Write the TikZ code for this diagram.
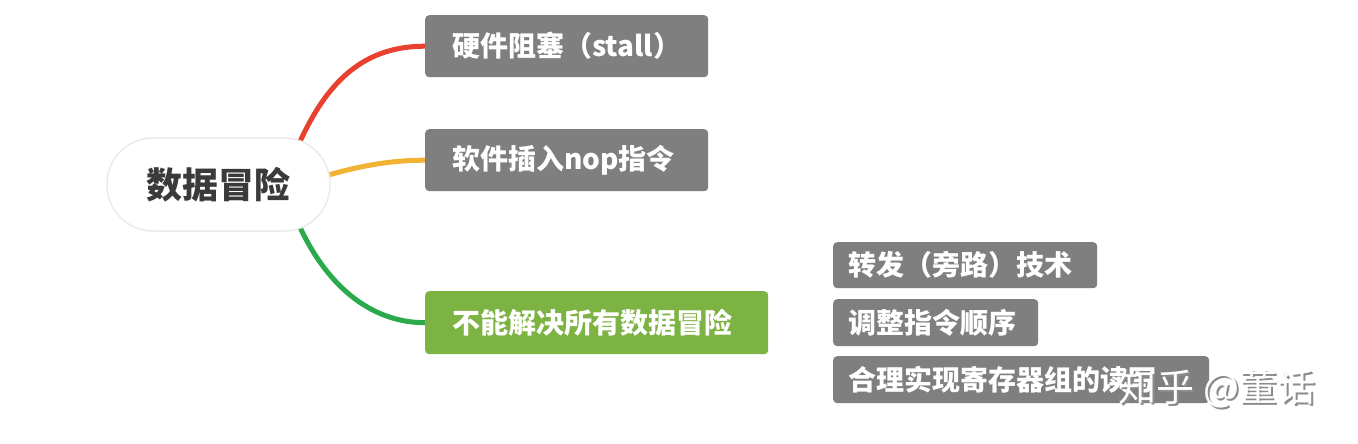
\documentclass[tikz,border=0pt]{standalone}
\usepackage{fontspec}
\newfontfamily\cjk{Noto Sans CJK SC}
\usetikzlibrary{calc,backgrounds}
\definecolor{boxgray}{HTML}{7F7F7F}
\definecolor{boxgreen}{HTML}{7CB342}
\definecolor{cred}{HTML}{E9412F}
\definecolor{cyel}{HTML}{F2B233}
\definecolor{cgrn}{HTML}{2BAA4B}
\definecolor{ctext}{HTML}{3A3A3A}
\tikzset{
  mbox/.style={rounded corners=4pt, fill=boxgray, text=white,
    font=\cjk\bfseries\fontsize{28}{30}\selectfont, anchor=north west,
    inner xsep=27pt, inner ysep=0pt, align=left},
  sbox/.style={mbox, inner xsep=15pt},
  conn/.style={line width=5pt},
  wm/.style={font=\cjk\fontsize{38}{40}\selectfont, inner sep=0pt}
}
\begin{document}
\begin{tikzpicture}[x=1pt,y=-1pt]
\useasboundingbox (0,0) rectangle (1358,444);
\node[rounded corners=46pt, fill=white, draw=black!8, line width=1.5pt,
  minimum width=223pt, minimum height=93pt, inner sep=0pt,
  font=\cjk\bfseries\fontsize{36}{40}\selectfont, text=ctext] (c) at (218.5,184.5) {数据冒险};
\node[mbox, minimum height=62pt, text width=229pt] (b1) at (425,15) {硬件阻塞（stall）};
\node[mbox, minimum height=62pt, text width=229pt] (b2) at (425,129) {软件插入nop指令};
\node[mbox, fill=boxgreen, minimum height=63pt, text width=289pt] (b3) at (425,291) {不能解决所有数据冒险};
\node[sbox, minimum height=46pt, text width=234pt] (s1) at (833,242) {转发（旁路）技术};
\node[sbox, minimum height=47pt, text width=175pt] (s2) at (833,299) {调整指令顺序};
\node[sbox, minimum height=47pt, text width=346pt] (s3) at (833,356) {合理实现寄存器组的读写};
\begin{pgfonlayer}{background}
\fill[white] (0,0) rectangle (1358,444);
\coordinate (r0) at ($(c.center)+(78,-35)$);
\coordinate (y0) at ($(c.center)+(105,-8)$);
\coordinate (g0) at ($(c.center)+(78,35)$);
\draw[conn, cred] (r0) .. controls +(30,-70) and +(-60,0) .. (b1.west);
\draw[conn, cyel] (y0) .. controls +(40,-12) and +(-30,0) .. (b2.west);
\draw[conn, cgrn] (g0) .. controls +(28,65) and +(-55,0) .. (b3.west);
\end{pgfonlayer}
\node[wm, text=black!45] (wms) at (1219,391) {知乎 @董话};
\node[wm, text=white] (wm) at ($(wms.center)+(-2,-2)$) {知乎 @董话};
\end{tikzpicture}
\end{document}
